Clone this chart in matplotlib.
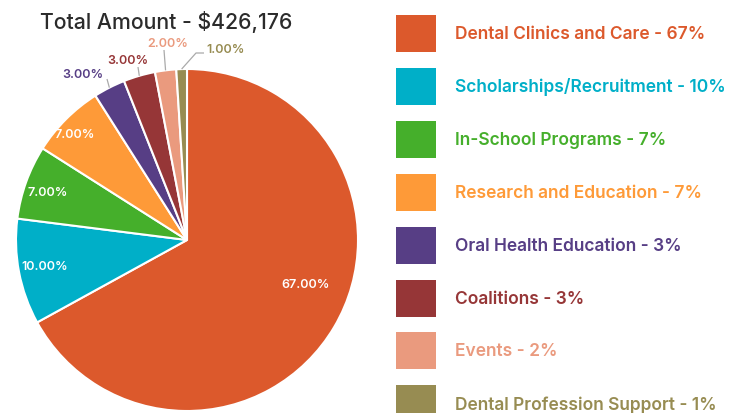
import matplotlib
matplotlib.use("Agg")
import matplotlib.pyplot as plt
from matplotlib.patches import Rectangle
import numpy as np

categories = ["Dental Clinics and Care", "Scholarships/Recruitment", "In-School Programs",
              "Research and Education", "Oral Health Education", "Coalitions", "Events",
              "Dental Profession Support"]
values = [67, 10, 7, 7, 3, 3, 2, 1]
colors = ["#DC592C", "#00AFC8", "#45AF2B", "#FE9A38", "#573E85", "#963637", "#EA9A7E", "#978C52"]
title = "Total Amount - $426,176"

FONT = "Inter"
W, H = 732, 413
fig = plt.figure(figsize=(W / 100, H / 100), dpi=100)

cx, cy, r = 187, 240, 171
ax = fig.add_axes([(cx - r) / W, (H - cy - r) / H, 2 * r / W, 2 * r / H])
wedges, _ = ax.pie(values, colors=colors, startangle=90, counterclock=False,
                   wedgeprops=dict(edgecolor="white", linewidth=1.5))
ax.set_xlim(-1, 1)
ax.set_ylim(-1, 1)
ax.set_aspect("equal")
ax.axis("off")

inside = {0: (0.74, 9.7), 1: (0.85, 0.0), 2: (0.86, 1.2), 3: (0.90, 1.8)}
LBL = 9.0

for i, w in enumerate(wedges):
    mid = np.deg2rad((w.theta1 + w.theta2) / 2)
    if i in inside:
        rr, off = inside[i]
        a = mid + np.deg2rad(off)
        ax.text(rr * np.cos(a), rr * np.sin(a), f"{values[i]:.2f}%", color="white",
                ha="center", va="center", fontsize=LBL, fontweight="semibold", family=FONT)

def px(xp, yp):
    return ((xp - cx) / r, (cy - yp) / r)

out_specs = {
    4: dict(text=(83, 75), line=[(107, 79), (110, 89)]),
    5: dict(text=(128, 61), line=[(138, 67), (139, 77)]),
    6: dict(text=(168, 44), line=[(164, 50), (165, 71)]),
    7: dict(text=(226, 50), line=[(204, 53), (196, 53), (182, 70)]),
}
for i, spec in out_specs.items():
    w = wedges[i]
    mid = np.deg2rad((w.theta1 + w.theta2) / 2)
    pts = [px(*p) for p in spec["line"]]
    pts[-1] = (np.cos(mid), np.sin(mid))
    xs, ys = zip(*pts)
    ax.plot(xs, ys, color="#AAAAAA", lw=0.9, clip_on=False, solid_capstyle="butt")
    tx, ty = px(*spec["text"])
    ax.text(tx, ty, f"{values[i]:.2f}%", color=colors[i], ha="center", va="center",
            fontsize=LBL, fontweight="semibold", family=FONT, clip_on=False)

fig.text(166 / W, 1 - 22 / H, title, ha="center", va="center", fontsize=15.3,
         color="#2B2B2B", family=FONT, fontweight="medium")

top0, step = 15, 52.9
for i, (c, v) in enumerate(zip(categories, values)):
    y_top = top0 + i * step
    fig.add_artist(Rectangle((396 / W, 1 - (y_top + 37) / H), 40 / W, 37 / H,
                             transform=fig.transFigure, facecolor=colors[i],
                             edgecolor="none"))
    fig.text(455 / W, 1 - (y_top + 19.5) / H, f"{c} - {v}%", ha="left", va="center",
             fontsize=12.5, color=colors[i], family=FONT, fontweight="semibold")

fig.savefig("out.png", dpi=100)
